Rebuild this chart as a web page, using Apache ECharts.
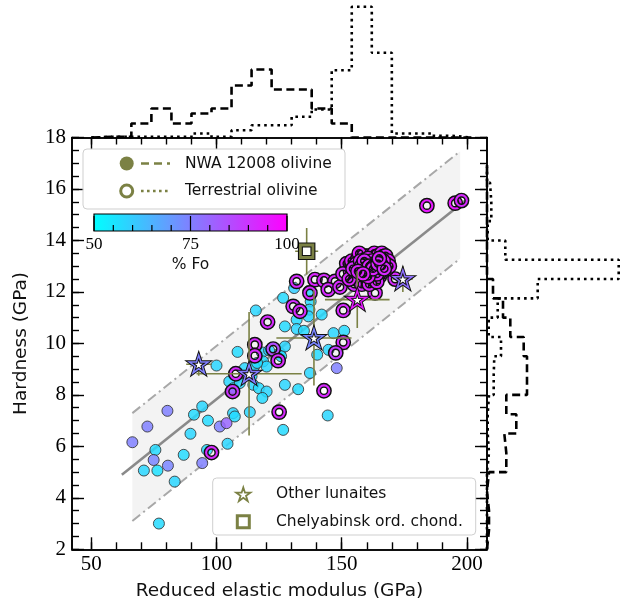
<!DOCTYPE html>
<html><head><meta charset="utf-8">
<script src="https://cdn.jsdelivr.net/npm/echarts@6/dist/echarts.min.js"></script>
<style>html,body{margin:0;padding:0;background:#fff}#c{width:628px;height:609px}</style>
</head><body><div id="c"></div><script>
// ---------------- DATA ----------------
// NWA 12008 olivine: [reduced modulus (GPa), hardness (GPa), %Fo]
const nwaPoints = [
[66.4,6.16,75],[72.4,6.77,75],[80.4,7.38,75],[75.6,5.86,57],[74.9,5.47,74],[71.0,5.06,58],[76.4,5.06,56],[80.6,5.25,74],
[83.3,4.63,58],[86.9,5.67,57],[89.6,6.49,58],[91.0,7.23,57],[77.0,3.0,57],[94.3,7.55,58],[96.6,7.0,57],[101.3,6.77,75],
[104,6.9,80],[104.4,6.1,58],[96.2,5.86,57],[94.3,5.35,75],[106.6,7.29,58],[107.3,7.16,57],[113.3,7.33,58],[126.6,6.64,57],
[100,9.14,58],[108.4,9.67,57],[115.7,11.28,58],[127.3,10.66,57],[105.1,8.52,58],[106.7,8.26,57],[105.7,8.1,84],[118.1,9.65,58],
[125.3,9.63,57],[127.3,9.88,58],[118.6,9.3,57],[120,9.1,58],[115,9.1,57],[114.7,8.39,58],[116.9,8.26,57],[120,8.13,58],
[118.3,7.88,57],[127.3,8.39,58],[132.6,8.22,57],[137.3,8.85,58],[126.6,11.77,57],[131,12.15,60],[136.7,12.03,58],[137.6,11.63,57],
[137.1,11.31,58],[142,11.12,57],[136.7,11.05,58],[132,10.92,57],[132,10.56,58],[134.9,10.49,57],[146.7,10.4,58],[151,10.49,57],
[144.7,9.75,58],[140.2,9.56,57],[144.4,7.2,58],[148,9.04,75],[121,9.73,58],[125.8,9.5,57],[111.3,9.04,58],[114,8.72,57],
[109.3,8.46,58],[116.2,9.24,57]
];
// Terrestrial olivine: [modulus, hardness, %Fo]
const terrPoints = [
[152.7,13.06,92],[132,12.41,92],[139.3,12.48,93],[142.9,12.45,92],[147.3,12.41,92],[144.6,12.09,92],[149.3,12.19,92],
[163.3,11.96,93],[150.6,11.28,92],[171.3,12.5,92],[130.6,11.44,91],[133.3,11.25,92],[137.3,11.96,92],[120.4,10.83,92],
[115.3,9.95,92],[115.3,9.52,92],[122.6,9.78,85],[124.6,9.33,92],[150.6,10.04,92],[147.6,9.63,88],[142.9,8.16,92],
[125,7.33,92],[107.7,8.82,92],[106.4,8.13,90],[98,5.76,92],
[152,13.1,93],[153.5,12.8,92],[154,13.2,94],[155,12.6,92],[155.5,13.0,93],[156,12.5,92],[156.5,13.3,94],[157,12.9,93],
[157.5,12.7,92],[158,13.1,94],[158.5,12.5,92],[159,13.4,93],[159,12.8,92],[159.5,13.0,94],[160,12.6,92],[160,13.2,93],
[160.5,12.9,92],[161,13.4,94],[161,12.7,92],[161.5,13.1,93],[162,12.5,92],[162,13.0,94],[162.5,13.3,93],[163,12.8,92],
[163,13.5,94],[163.5,12.6,92],[164,13.1,93],[164.5,13.4,94],[165,12.9,92],[165,12.6,93],[165.5,13.2,94],[166,13.5,93],
[166.5,12.8,92],[167,13.1,94],[167.5,13.4,93],[168,12.9,92],[168.5,13.2,94],[169,13.0,93],[157,13.5,94],[155,12.3,92],
[158,12.3,92],[161,12.3,93],[164,12.4,92],[150.5,12.7,92],[153,12.5,93],[156,13.1,93],[158.5,12.9,92],[160.5,13.3,94],
[162.5,12.7,93],[164.5,12.9,92],[166.5,13.2,94],[154.5,12.9,92],
[157.5,13.2,93],[159.5,12.7,92],[161.5,12.9,94],[163.5,13.2,93],[165.5,12.8,92],[158,13.0,93],[160,12.9,94],[162,13.2,92],
[164,12.7,93],[166,13.0,94],[159,13.2,92],[161,13.0,93],[163,13.0,92],[160.5,12.6,94],[162.5,12.9,93],[164.5,13.1,92],
[156.5,12.8,93],[158.5,12.7,94],[167,12.9,92],[165,13.3,93],
[184,15.35,95],[195.3,15.45,95],[197.8,15.55,92]
];
// Other lunaites: [modulus, hardness, %Fo, modulus err, hardness err]
const lunaites = [
[92.9,9.19,75,5,0.45],[113,8.82,76,21,2.4],[138.9,10.21,74,15,1.85],[156.2,11.7,95,12.9,1.1],[174.4,12.5,78,4,0.5]
];
// Chelyabinsk ordinary chondrite: [modulus, hardness, modulus err, hardness err]
const chelyabinsk = [[136,13.58,4.6,0.9]];
// Regression line and prediction band
const fitX = [62.2, 200], fitY = [4.9, 15.6];
const bandX = [66.4, 197.3], bandLo = [3.10, 13.3], bandHi = [7.29, 17.47];
// Top histogram (modulus), bins of 8 GPa from 50
const topBinStart = 50, topBinWidth = 8;
const topNWA  = [0.6,0.6,14,29,14,24,29,52,68,48,48,29,14,0,0,0,0,0,0];
const topTerr = [0.6,0.6,0.6,0.6,0.6,4,0.6,7.3,12.3,12.3,20.7,28,67.3,130.7,84.7,4,4,1.7,0];
// Right histogram (hardness), bins of 0.75 GPa from 2
const rightBinStart = 2, rightBinWidth = 0.75;
const rightNWA  = [2,2,0,2,19.3,17.3,29.3,19.3,40,40,36.7,23.3,16,6,0,0,0,0,0,0];
const rightTerr = [0,0,0,0,2,0.7,0.7,2,6.7,7.3,14,1.7,10.7,50.7,131.7,18.3,0.7,4.3,3,0];
// Axis ticks
const xMajor = [50,100,150,200];
const xMinor = [50,60,70,80,90,100,110,120,130,140,150,160,170,180,190,200];
const yMajor = [2,4,6,8,10,12,14,16,18];
const yMinor = [2,2.5,3,3.5,4,4.5,5,5.5,6,6.5,7,7.5,8,8.5,9,9.5,10,10.5,11,11.5,12,12.5,13,13.5,14,14.5,15,15.5,16,16.5,17,17.5,18];
const cbTicks = [50,55,60,65,70,75,80,85,90,95,100];
const cbLabels = [50,75,100];

// ---------------- STYLE ----------------
const OLIVE = '#7b8144';
const X_MIN = 42.3, X_MAX = 208, Y_MIN = 2, Y_MAX = 18;
const SANS = 'DejaVu Sans', SERIF = 'Liberation Serif';
function cool(fo){const t=Math.max(0,Math.min(1,(fo-50)/50));return 'rgb('+Math.round(255*t)+','+Math.round(255*(1-t))+',255)';}
function starPoints(cx,cy,R){const p=[];for(let i=0;i<10;i++){const r=i%2?0.382*R:R;const a=-Math.PI/2+i*Math.PI/5;p.push([cx+r*Math.cos(a),cy+r*Math.sin(a)]);}return p;}

const chart = echarts.init(document.getElementById('c'), null, {renderer:'canvas'});
const G = {left:72, top:137.5, width:415, height:411.8};

function xAx(pos, ticks, len, labels){
  return {type:'value', gridIndex:0, min:X_MIN, max:X_MAX, position:pos,
    axisLine:{show:true, onZero:false, lineStyle:{color:'#000', width:1.6}},
    axisTick:{show:true, inside:true, length:len, customValues:ticks, lineStyle:{color:'#000', width:1.4}},
    axisLabel: labels ? {show:true, customValues:xMajor, margin:5, fontFamily:SERIF, fontSize:21, color:'#000'} : {show:false},
    splitLine:{show:false},
    name: labels ? 'Reduced elastic modulus (GPa)' : '', nameLocation:'middle', nameGap:32,
    nameTextStyle:{fontFamily:SANS, fontSize:18.5, color:'#111'}};
}
function yAx(pos, ticks, len, labels){
  return {type:'value', gridIndex:0, min:Y_MIN, max:Y_MAX, position:pos,
    axisLine:{show:true, onZero:false, lineStyle:{color:'#000', width:1.6}},
    axisTick:{show:true, inside:true, length:len, customValues:ticks, lineStyle:{color:'#000', width:1.4}},
    axisLabel: labels ? {show:true, customValues:yMajor, margin:6, fontFamily:SERIF, fontSize:21, color:'#000'} : {show:false},
    splitLine:{show:false},
    name: labels ? 'Hardness (GPa)' : '', nameLocation:'middle', nameGap:41, nameRotate:90,
    nameTextStyle:{fontFamily:SANS, fontSize:18.5, color:'#111'}};
}

// histogram outlines built from bin arrays
function topOutline(vals){const pts=[[topBinStart,0]];vals.forEach((v,i)=>{const e=topBinStart+i*topBinWidth;pts.push([e,v],[e+topBinWidth,v]);});pts.push([topBinStart+vals.length*topBinWidth,0]);return pts;}
function rightOutline(vals){const pts=[[0,rightBinStart]];vals.forEach((v,i)=>{const e=rightBinStart+i*rightBinWidth;pts.push([v,e],[v,e+rightBinWidth]);});pts.push([0,rightBinStart+vals.length*rightBinWidth]);return pts;}

function errRender(params, api){
  const x=api.value(0), y=api.value(1), ex=api.value(2), ey=api.value(3);
  const a=api.coord([x-ex,y]), b=api.coord([x+ex,y]), c=api.coord([x,y-ey]), d=api.coord([x,y+ey]);
  const st={stroke:OLIVE, lineWidth:1.6};
  return {type:'group', children:[
    {type:'line', shape:{x1:a[0],y1:a[1],x2:b[0],y2:b[1]}, style:st},
    {type:'line', shape:{x1:c[0],y1:c[1],x2:d[0],y2:d[1]}, style:st}]};
}
function ringRender(params, api){
  const p=api.coord([api.value(0),api.value(1)]);
  const col=cool(api.value(2));
  return {type:'group', children:[
    {type:'circle', shape:{cx:p[0],cy:p[1],r:5.4}, style:{fill:'none', stroke:'#111', lineWidth:5.0}},
    {type:'circle', shape:{cx:p[0],cy:p[1],r:5.4}, style:{fill:'none', stroke:col, lineWidth:2.1}}]};
}
function starRender(params, api){
  const p=api.coord([api.value(0),api.value(1)]);
  const col=cool(api.value(2));
  const pts=starPoints(p[0],p[1]+0.8,9.8);
  return {type:'group', children:[
    {type:'polygon', shape:{points:pts}, style:{fill:'#fff', stroke:'#111', lineWidth:3.4, lineJoin:'miter'}},
    {type:'polygon', shape:{points:pts}, style:{fill:'none', stroke:col, lineWidth:1.5, lineJoin:'miter'}}]};
}
function squareRender(params, api){
  const p=api.coord([api.value(0),api.value(1)]);
  const s=12.5;
  return {type:'group', children:[
    {type:'rect', shape:{x:p[0]-s/2,y:p[1]-s/2,width:s,height:s}, style:{fill:'#fff', stroke:'#111', lineWidth:5}},
    {type:'rect', shape:{x:p[0]-s/2,y:p[1]-s/2,width:s,height:s}, style:{fill:'none', stroke:OLIVE, lineWidth:2.8}}]};
}
function bandRender(params, api){
  const pts=[api.coord([bandX[0],bandLo[0]]),api.coord([bandX[1],bandLo[1]]),api.coord([bandX[1],bandHi[1]]),api.coord([bandX[0],bandHi[0]])];
  return {type:'polygon', shape:{points:pts}, style:{fill:'#f3f3f3'}};
}

const cbX0=94, cbW=193, cbY0=214, cbH=17;
const graphics = [];
// legend 1
graphics.push({type:'rect', z:100, shape:{x:83,y:149,width:262,height:60,r:4}, style:{fill:'rgba(255,255,255,0.85)', stroke:'#cfcfcf', lineWidth:1}});
graphics.push({type:'circle', z:101, shape:{cx:126.7,cy:163.5,r:7}, style:{fill:OLIVE}});
graphics.push({type:'line', z:101, shape:{x1:141,y1:163.5,x2:170,y2:163.5}, style:{stroke:OLIVE, lineWidth:2.6, lineDash:[8,5]}});
graphics.push({type:'text', z:101, x:185, y:163.5, style:{text:'NWA 12008 olivine', fontFamily:SANS, fontSize:15.5, fill:'#111', verticalAlign:'middle'}});
graphics.push({type:'circle', z:101, shape:{cx:126.7,cy:191,r:6}, style:{fill:'#fff', stroke:OLIVE, lineWidth:3}});
graphics.push({type:'line', z:101, shape:{x1:141,y1:191,x2:170,y2:191}, style:{stroke:OLIVE, lineWidth:2.6, lineDash:[2.6,3.4]}});
graphics.push({type:'text', z:101, x:185, y:191, style:{text:'Terrestrial olivine', fontFamily:SANS, fontSize:15.5, fill:'#111', verticalAlign:'middle'}});
// colorbar
graphics.push({type:'rect', z:101, shape:{x:cbX0,y:cbY0,width:cbW,height:cbH}, style:{fill:new echarts.graphic.LinearGradient(0,0,1,0,[{offset:0,color:'#00ffff'},{offset:0.5,color:'#8080ff'},{offset:1,color:'#ff00ff'}]), stroke:'#000', lineWidth:1.2}});
cbTicks.forEach(v=>{const x=cbX0+(v-50)/50*cbW;const major=cbLabels.indexOf(v)>=0;graphics.push({type:'line', z:102, shape:{x1:x,y1:cbY0+cbH,x2:x,y2:cbY0+cbH-(major?15:6)}, style:{stroke:'#000', lineWidth:1.2}});});
cbLabels.forEach(v=>{const x=cbX0+(v-50)/50*cbW;graphics.push({type:'text', z:102, x:x, y:245, style:{text:String(v), fontFamily:SERIF, fontSize:17, fill:'#000', align:'center', verticalAlign:'middle'}});});
graphics.push({type:'text', z:102, x:190.5, y:265, style:{text:'% Fo', fontFamily:SANS, fontSize:15.5, fill:'#111', align:'center', verticalAlign:'middle'}});
// legend 2
graphics.push({type:'rect', z:100, shape:{x:212.7,y:478,width:263,height:57,r:4}, style:{fill:'rgba(255,255,255,0.85)', stroke:'#cfcfcf', lineWidth:1}});
graphics.push({type:'polygon', z:101, shape:{points:starPoints(243.3,495,7.5)}, style:{fill:'#fff', stroke:OLIVE, lineWidth:1.8}});
graphics.push({type:'text', z:101, x:276, y:494, style:{text:'Other lunaites', fontFamily:SANS, fontSize:15.5, fill:'#111', verticalAlign:'middle'}});
graphics.push({type:'rect', z:101, shape:{x:237.3,y:515.7,width:12,height:12}, style:{fill:'#fff', stroke:OLIVE, lineWidth:3}});
graphics.push({type:'text', z:101, x:276, y:522, style:{text:'Chelyabinsk ord. chond.', fontFamily:SANS, fontSize:15.5, fill:'#111', verticalAlign:'middle'}});

const option = {
  animation:false,
  backgroundColor:'#fff',
  grid:[G, {left:72, top:0, width:415, height:137.5}, {left:487, top:137.5, width:141, height:411.8}],
  xAxis:[
    xAx('bottom', xMajor, 12, true), xAx('bottom', xMinor, 7, false),
    xAx('top', xMajor, 12, false), xAx('top', xMinor, 7, false),
    {type:'value', gridIndex:1, min:X_MIN, max:X_MAX, show:false},
    {type:'value', gridIndex:2, min:0, max:141, show:false}
  ],
  yAxis:[
    yAx('left', yMajor, 12, true), yAx('left', yMinor, 7, false),
    yAx('right', yMajor, 12, false), yAx('right', yMinor, 7, false),
    {type:'value', gridIndex:1, min:0, max:137.5, show:false},
    {type:'value', gridIndex:2, min:Y_MIN, max:Y_MAX, show:false}
  ],
  graphic: graphics,
  series:[
    {type:'custom', xAxisIndex:0, yAxisIndex:0, renderItem:bandRender, data:[[bandX[0],bandLo[0]]], silent:true, z:1},
    {type:'line', xAxisIndex:0, yAxisIndex:0, data:[[bandX[0],bandLo[0]],[bandX[1],bandLo[1]]], symbol:'none', lineStyle:{color:'#a8a8a8', width:2, type:[10,4,2,4]}, z:2},
    {type:'line', xAxisIndex:0, yAxisIndex:0, data:[[bandX[0],bandHi[0]],[bandX[1],bandHi[1]]], symbol:'none', lineStyle:{color:'#a8a8a8', width:2, type:[10,4,2,4]}, z:2},
    {type:'line', xAxisIndex:0, yAxisIndex:0, data:fitX.map((x,i)=>[x,fitY[i]]), symbol:'none', lineStyle:{color:'#8a8a8a', width:2.6}, z:3},
    {type:'scatter', xAxisIndex:0, yAxisIndex:0, symbol:'circle', symbolSize:11, z:4,
      data:nwaPoints.map(p=>({value:[p[0],p[1]], itemStyle:{color:cool(p[2])}})),
      itemStyle:{borderColor:'#333', borderWidth:1, opacity:0.85}},
    {type:'custom', xAxisIndex:0, yAxisIndex:0, renderItem:ringRender, data:terrPoints, z:5, clip:true},
    {type:'custom', xAxisIndex:0, yAxisIndex:0, renderItem:errRender, data:lunaites.map(p=>[p[0],p[1],p[3],p[4]]).concat(chelyabinsk), z:6, clip:true},
    {type:'custom', xAxisIndex:0, yAxisIndex:0, renderItem:starRender, data:lunaites.map(p=>[p[0],p[1],p[2]]), z:7},
    {type:'custom', xAxisIndex:0, yAxisIndex:0, renderItem:squareRender, data:chelyabinsk.map(p=>[p[0],p[1]]), z:8},
    {type:'line', xAxisIndex:4, yAxisIndex:4, data:topOutline(topNWA), symbol:'none', lineStyle:{color:'#000', width:2.6, type:[8,4.5], cap:'butt'}},
    {type:'line', xAxisIndex:4, yAxisIndex:4, data:topOutline(topTerr), symbol:'none', lineStyle:{color:'#000', width:2.6, type:[2.6,4]}},
    {type:'line', xAxisIndex:5, yAxisIndex:5, data:rightOutline(rightNWA), symbol:'none', lineStyle:{color:'#000', width:2.6, type:[8,4.5]}},
    {type:'line', xAxisIndex:5, yAxisIndex:5, data:rightOutline(rightTerr), symbol:'none', lineStyle:{color:'#000', width:2.6, type:[2.6,4]}}
  ]
};
chart.setOption(option);
</script></body></html>
